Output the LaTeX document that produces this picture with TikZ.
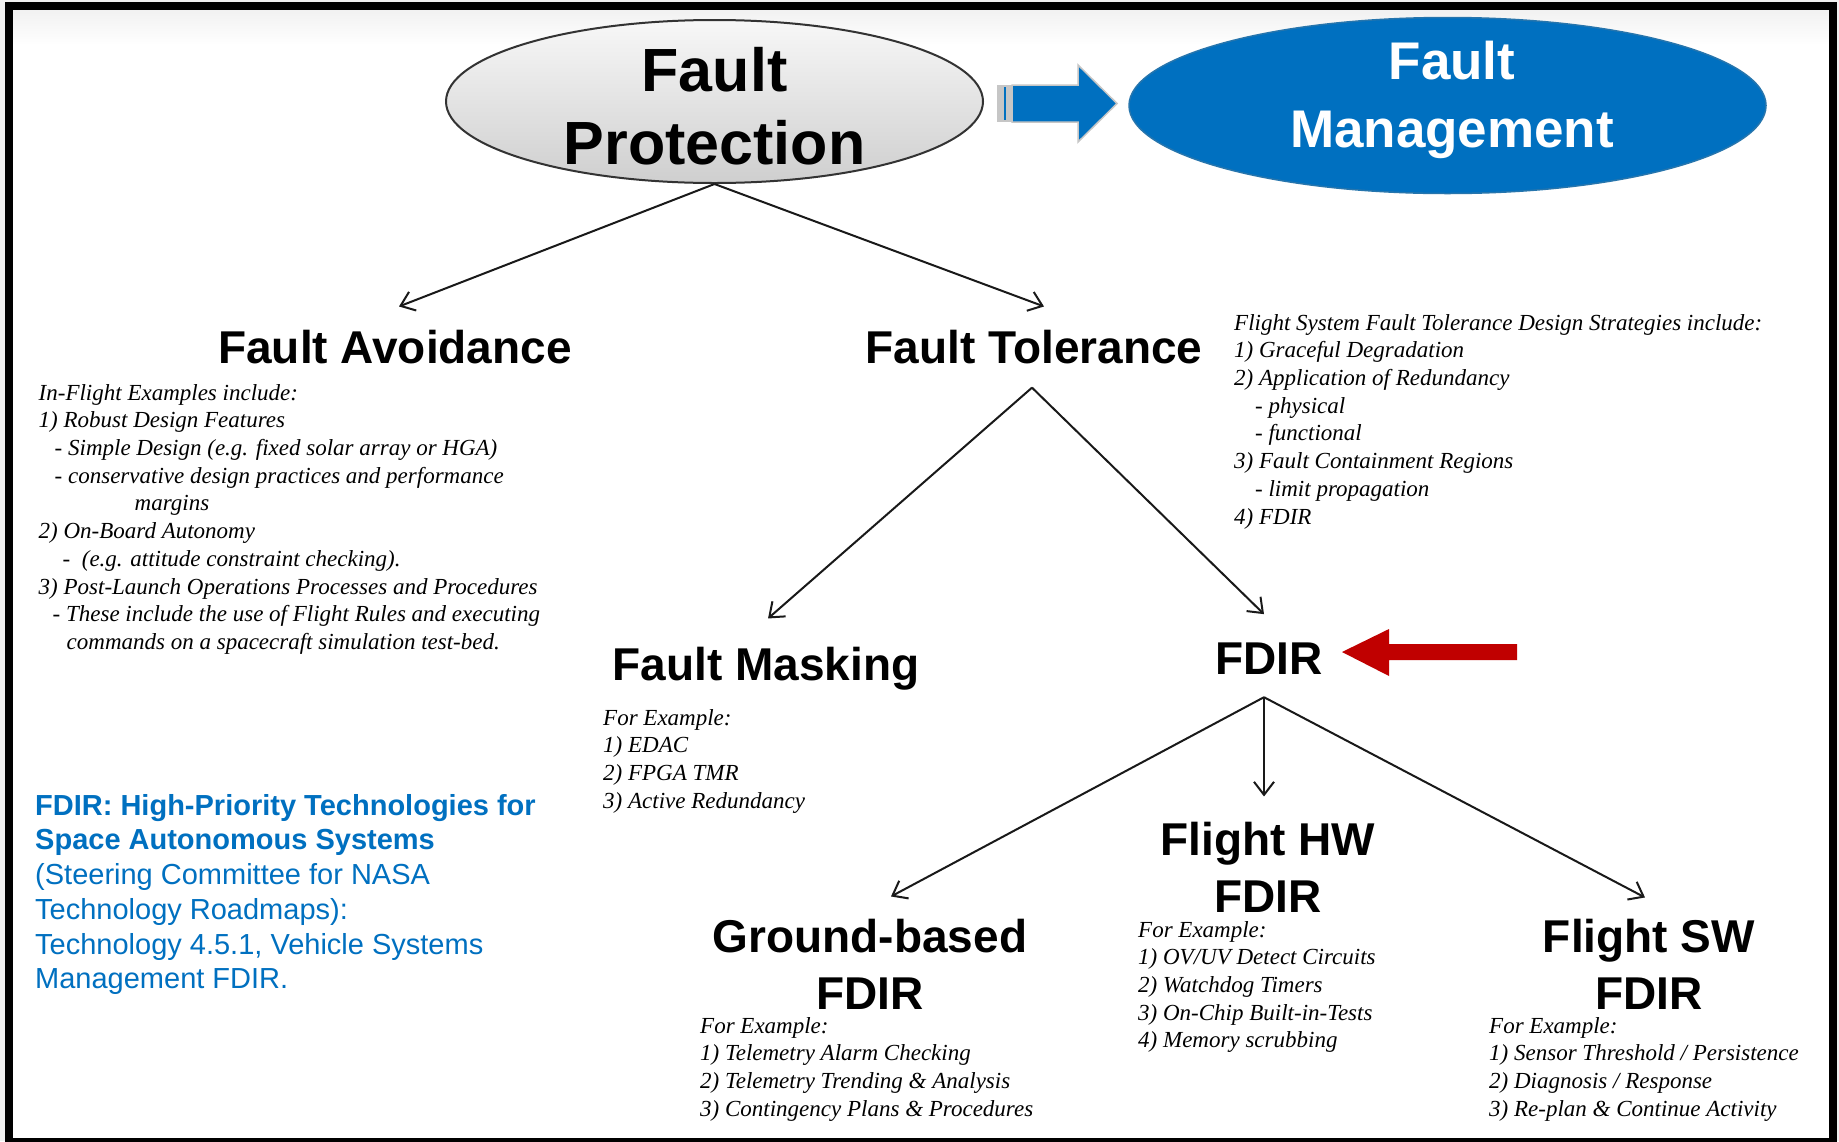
\documentclass[tikz,border=0pt]{standalone}
\usepackage{fontspec}
\setmainfont{Liberation Serif}
\setsansfont{Liberation Sans}
\usetikzlibrary{arrows.meta,shapes.geometric}
\definecolor{fmblue}{HTML}{0070C0}
\definecolor{fdred}{HTML}{C00000}
\tikzset{
  head/.style={font=\sffamily\bfseries\fontsize{46}{57}\selectfont, align=center, inner sep=0pt, anchor=base},
  lst/.style={font=\rmfamily\itshape\fontsize{23}{27.7}\selectfont, align=left, inner sep=0pt, anchor=north west},
  conn/.style={line width=2pt, draw=black!90, -{Straight Barb[length=13pt,width=20pt]}},
}
\begin{document}
\begin{tikzpicture}[x=1pt,y=-1pt]
\useasboundingbox (0,0) rectangle (1839,1141);
% background and frame
\fill[gray!12] (0,0) rectangle (1839,1141);
\fill[white] (9,6) rectangle (1833,1141);
\shade[top color=gray!12,bottom color=white] (9,6) rectangle (1833,45);
\draw[line width=8pt] (9,6) -- (1833,6) -- (1833,1142) -- (9,1142) -- cycle;
% top ellipses
\node[ellipse, minimum width=537pt, minimum height=163pt, inner sep=0pt, top color=gray!6, bottom color=gray!38, draw=gray!40!black, line width=2pt] (fp) at (714.5,101.5) {};
\node[font=\sffamily\bfseries\fontsize{61}{73}\selectfont, align=center, inner sep=0pt, anchor=base] (fptext) at (714.5,164) {Fault\\Protection};
\node[ellipse, minimum width=637pt, minimum height=176pt, inner sep=0pt, fill=fmblue, draw=fmblue!70!gray, line width=1.5pt] (fm) at (1447.5,105.5) {};
\node[font=\sffamily\bfseries\fontsize{53}{68}\selectfont, text=white, align=center, inner sep=0pt, anchor=base] (fmtext) at (1452,147) {Fault\\Management};
% blue block arrow
\fill[gray!45] (997,85) rectangle (1012,122);
\fill[fmblue] (1003.5,87) rectangle (1006,120);
\filldraw[fill=fmblue, draw=gray!45, line width=1.5pt] (1012,85) -- (1078,85) -- (1078,65) -- (1117,103.5) -- (1078,142) -- (1078,122) -- (1012,122) -- cycle;
% headings
\node[head] (fa) at (395,363) {Fault Avoidance};
\node[head] (ft) at (1034,363) {Fault Tolerance};
\node[head] (fmask) at (766,680) {Fault Masking};
\node[head] (fdir) at (1269,674) {FDIR};
\node[head] (hw) at (1268,912) {Flight HW\\FDIR};
\node[head] (gb) at (870,1009) {Ground-based\\FDIR};
\node[head] (sw) at (1649,1009) {Flight SW\\FDIR};
% connectors
\draw[conn] (fp.south) -- ([xshift=4pt,yshift=23pt]fa.north);
\draw[conn] (fp.south) -- ([xshift=10pt,yshift=23pt]ft.north);
\draw[conn] ([xshift=-2pt,yshift=-24pt]ft.south) -- ([xshift=2pt,yshift=28pt]fmask.north);
\draw[conn] ([xshift=-2pt,yshift=-24pt]ft.south) -- ([xshift=-5pt,yshift=28pt]fdir.north);
\draw[conn] ([xshift=-5pt,yshift=-23pt]fdir.south) -- ([xshift=21pt,yshift=22pt]gb.north);
\draw[conn] ([xshift=-5pt,yshift=-23pt]fdir.south) -- ([xshift=-4pt,yshift=25pt]hw.north);
\draw[conn] ([xshift=-5pt,yshift=-23pt]fdir.south) -- ([xshift=-4pt,yshift=21pt]sw.north);
% red arrow
\fill[fdred] (1342,652) -- (1389,629) -- (1389,644) -- (1517,644) -- (1517,660) -- (1389,660) -- (1389,676) -- cycle;
% lists
\node[lst] (falist) at (38.5,384) {In-Flight Examples include:\\
1) Robust Design Features\\
\hspace*{16pt}- Simple Design (e.g. fixed solar array or HGA)\\
\hspace*{16pt}- conservative design practices and performance\\
\hspace*{96pt}margins\\
2) On-Board Autonomy\\
\hspace*{24pt}-\ \ (e.g. attitude constraint checking).\\
3) Post-Launch Operations Processes and Procedures\\
\hspace*{14pt}- These include the use of Flight Rules and executing\\
\hspace*{28pt}commands on a spacecraft simulation test-bed.};
\node[lst] (ftlist) at (1234,314) {Flight System Fault Tolerance Design Strategies include:\\
1) Graceful Degradation\\
2) Application of Redundancy\\
\hspace*{21pt}- physical\\
\hspace*{21pt}- functional\\
3) Fault Containment Regions\\
\hspace*{21pt}- limit propagation\\
4) FDIR};
\node[lst] (fmlist) at (603,709) {For Example:\\1) EDAC\\2) FPGA TMR\\3) Active Redundancy};
\node[lst] (gblist) at (700,1017) {For Example:\\1) Telemetry Alarm Checking\\2) Telemetry Trending \& Analysis\\3) Contingency Plans \& Procedures};
\node[lst] (hwlist) at (1138,921) {For Example:\\1) OV/UV Detect Circuits\\2) Watchdog Timers\\3) On-Chip Built-in-Tests\\4) Memory scrubbing};
\node[lst] (swlist) at (1489,1017) {For Example:\\1) Sensor Threshold / Persistence\\2) Diagnosis / Response\\3) Re-plan \& Continue Activity};
% blue note
\node[font=\sffamily\fontsize{29}{34.7}\selectfont, text=fmblue, align=left, inner sep=0pt, anchor=north west] (note) at (35,794) {\textbf{FDIR: High-Priority Technologies for}\\\textbf{Space Autonomous Systems}\\(Steering Committee for NASA\\Technology Roadmaps):\\Technology 4.5.1, Vehicle Systems\\Management FDIR.};
\end{tikzpicture}
\end{document}
